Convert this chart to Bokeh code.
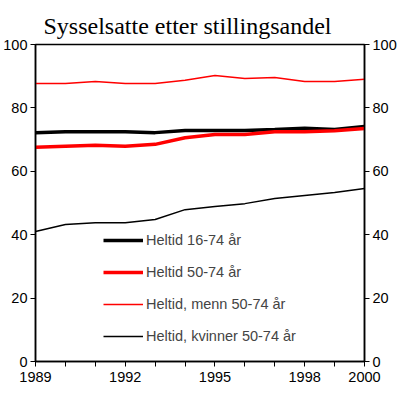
from bokeh.plotting import figure
from bokeh.models import LinearAxis, FixedTicker, Range1d, Legend, LegendItem, Title
from bokeh.embed import file_html
from bokeh.resources import INLINE

years = [1989, 1990, 1991, 1992, 1993, 1994, 1995, 1996, 1997, 1998, 1999, 2000]
heltid_16_74 = [72.2, 72.5, 72.5, 72.5, 72.2, 72.9, 72.9, 72.9, 73.2, 73.6, 73.2, 74.1]
heltid_50_74 = [67.6, 67.9, 68.2, 67.9, 68.5, 70.6, 71.6, 71.6, 72.5, 72.5, 72.8, 73.5]
heltid_menn = [87.7, 87.7, 88.3, 87.7, 87.7, 88.7, 90.2, 89.3, 89.6, 88.3, 88.3, 89.0]
heltid_kvinner = [41.0, 43.2, 43.8, 43.8, 44.8, 47.9, 48.9, 49.8, 51.4, 52.4, 53.3, 54.6]

labels = ["Heltid 16-74 år", "Heltid 50-74 år", "Heltid, menn 50-74 år", "Heltid, kvinner 50-74 år"]
x_tick_labels = {1989: "1989", 1992: "1992", 1995: "1995", 1998: "1998", 2000: "2000"}
y_ticks = [0, 20, 40, 60, 80, 100]

FONT = "Liberation Sans"
FS = "14.5px"

p = figure(width=399, height=393, output_backend="svg", toolbar_location=None,
           x_range=Range1d(1989, 2000), y_range=Range1d(0, 100),
           min_border_left=35, min_border_right=34, min_border_top=44, min_border_bottom=32,
           background_fill_color="white", border_fill_color="white")
p.title = Title(text="Sysselsatte etter stillingsandel", align="left", offset=8,
                text_font="Liberation Serif", text_font_size="24px",
                text_font_style="normal", text_color="black", standoff=11)
p.outline_line_color = "black"
p.outline_line_width = 1.5
p.grid.visible = False

def style_axis(ax):
    ax.axis_line_color = "black"
    ax.axis_line_width = 1.5
    ax.major_tick_line_color = "black"
    ax.major_tick_line_width = 1
    ax.major_tick_in = 0
    ax.major_tick_out = 5
    ax.minor_tick_line_color = None
    ax.major_label_text_font = FONT
    ax.major_label_text_font_size = FS
    ax.major_label_text_color = "black"
    ax.major_label_standoff = 3

xa = p.xaxis[0]
xa.ticker = FixedTicker(ticks=years)
xa.major_label_overrides = {y: x_tick_labels.get(y, "") for y in years}
style_axis(xa)
xa.major_label_standoff = 5

ya = p.yaxis[0]
ya.ticker = FixedTicker(ticks=y_ticks)
style_axis(ya)

ra = LinearAxis(ticker=FixedTicker(ticks=y_ticks))
style_axis(ra)
p.add_layout(ra, "right")

r1 = p.line(years, heltid_16_74, line_color="black", line_width=3.5)
r2 = p.line(years, heltid_50_74, line_color="#ff0000", line_width=3.5)
r3 = p.line(years, heltid_menn, line_color="#ff0000", line_width=1.5)
r4 = p.line(years, heltid_kvinner, line_color="black", line_width=1.5)

legend = Legend(items=[LegendItem(label=labels[0], renderers=[r1]),
                       LegendItem(label=labels[1], renderers=[r2]),
                       LegendItem(label=labels[2], renderers=[r3]),
                       LegendItem(label=labels[3], renderers=[r4])],
                location=(68, 15), padding=0, margin=0, spacing=12,
                glyph_width=40, glyph_height=20, label_standoff=3,
                label_text_font=FONT, label_text_font_size=FS,
                border_line_color=None, background_fill_alpha=0)
p.add_layout(legend, "center")

open("out.html", "w").write(file_html(p, INLINE))
